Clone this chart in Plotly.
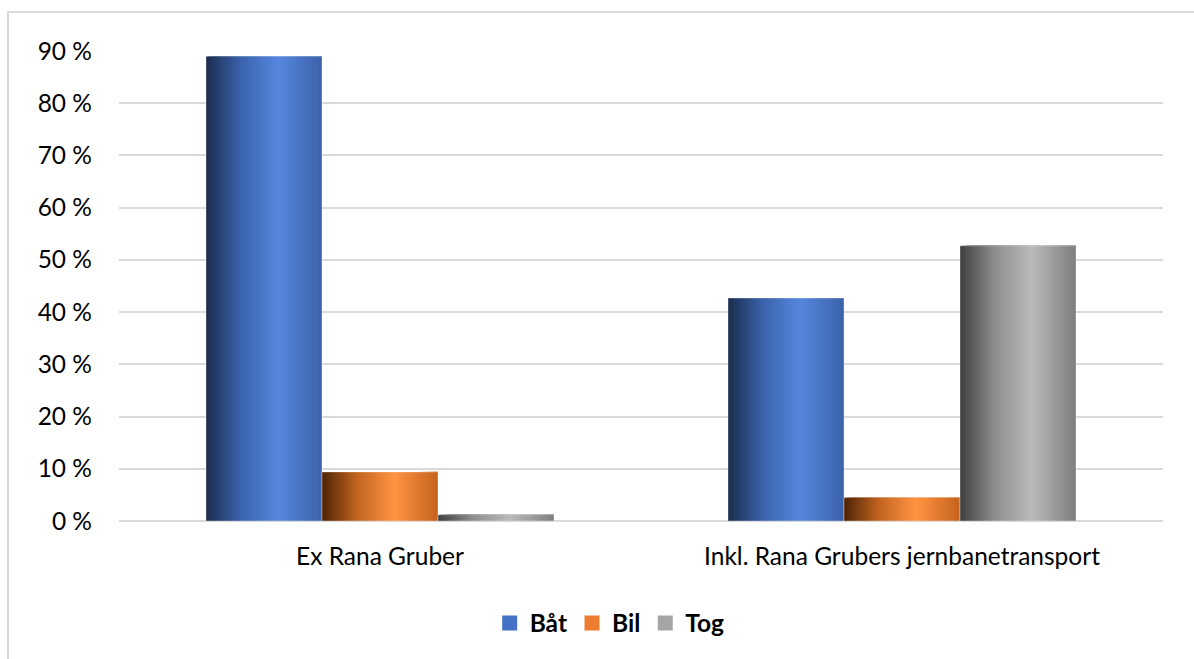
import plotly.graph_objects as go

# ---- data ----
categories = ["Ex Rana Gruber", "Inkl. Rana Grubers jernbanetransport"]
series_names = ["Båt", "Bil", "Tog"]
baat = [89.0, 42.7]
bil = [9.4, 4.5]
tog = [1.2, 52.7]
y_ticks = [0, 10, 20, 30, 40, 50, 60, 70, 80, 90]
y_tick_labels = ["0 %", "10 %", "20 %", "30 %", "40 %", "50 %", "60 %", "70 %", "80 %", "90 %"]

series_values = [baat, bil, tog]

# ---- styles ----
legend_colors = ["#4472C4", "#ED7D31", "#A5A5A5"]
gradient_stops = [
    [(0.0, "#1c2c4e"), (0.30, "#3a63ab"), (0.62, "#5686de"), (1.0, "#3c62aa")],
    [(0.0, "#4d2306"), (0.30, "#c2641f"), (0.62, "#ff9443"), (1.0, "#c5621c")],
    [(0.0, "#3f3f3f"), (0.30, "#8e8e8e"), (0.62, "#bababa"), (1.0, "#7e7e7e")],
]
FONT = "Lato"
FS = 24.5


def hex2rgb(h):
    h = h.lstrip("#")
    return tuple(int(h[i:i + 2], 16) for i in (0, 2, 4))


def grad_color(stops, t):
    for (t0, c0), (t1, c1) in zip(stops[:-1], stops[1:]):
        if t0 <= t <= t1:
            f = (t - t0) / (t1 - t0) if t1 > t0 else 0
            a, b = hex2rgb(c0), hex2rgb(c1)
            r = [round(a[j] + (b[j] - a[j]) * f) for j in range(3)]
            return "rgb(%d,%d,%d)" % tuple(r)
    return stops[-1][1]


fig = go.Figure()

W = 2.0 / 9.0          # width of one bar in category units
N = 48                 # gradient strips per bar
for k, (name, vals) in enumerate(zip(series_names, series_values)):
    s0 = -1.0 / 3.0 + k * W
    for i in range(N):
        t = (i + 0.5) / N
        off = s0 + i * W / N
        fig.add_trace(go.Bar(
            x=categories, y=vals, offset=off, width=W - i * W / N,
            marker=dict(color=grad_color(gradient_stops[k], t), line=dict(width=0)),
            showlegend=False, hoverinfo="skip",
        ))
    # thin outline
    fig.add_trace(go.Bar(
        x=categories, y=vals, offset=s0, width=W,
        marker=dict(color="rgba(0,0,0,0)", line=dict(color="rgba(255,255,255,0.35)", width=1)),
        showlegend=False, name=name,
    ))
    # legend entry
    fig.add_trace(go.Scatter(
        x=[None], y=[None], mode="markers", name=name,
        marker=dict(symbol="square", size=15, color=legend_colors[k], line=dict(width=0)),
    ))

fig.update_layout(
    width=1194, height=659,
    margin=dict(l=119, r=31, t=51, b=138),
    paper_bgcolor="white", plot_bgcolor="white",
    barmode="overlay",
    font=dict(family=FONT, size=FS, color="#000000"),
    showlegend=True,
    legend=dict(orientation="h", x=0.47, xanchor="center", y=-0.217, yanchor="middle",
                font=dict(family=FONT, size=FS, weight="bold", color="#000000"),
                itemclick=False, itemdoubleclick=False),
    xaxis=dict(type="category", showgrid=False, ticks="", showline=False,
               ticklabelstandoff=18, tickfont=dict(family=FONT, size=FS)),
    yaxis=dict(range=[0, 90], tickmode="array", tickvals=y_ticks, ticktext=y_tick_labels,
               showgrid=True, gridcolor="#d9d9d9", gridwidth=2,
               zeroline=True, zerolinecolor="#d9d9d9", zerolinewidth=2,
               ticks="", showline=False, ticklabelstandoff=26,
               tickfont=dict(family=FONT, size=FS)),
    shapes=[dict(type="rect", xref="paper", yref="paper",
                 x0=(8 - 119) / 1044, x1=(1200 - 119) / 1044,
                 y0=(521 - 680) / 470, y1=(521 - 12) / 470,
                 line=dict(color="#d9d9d9", width=2), fillcolor="rgba(0,0,0,0)",
                 layer="below")],
)

fig.write_html("out.html")
